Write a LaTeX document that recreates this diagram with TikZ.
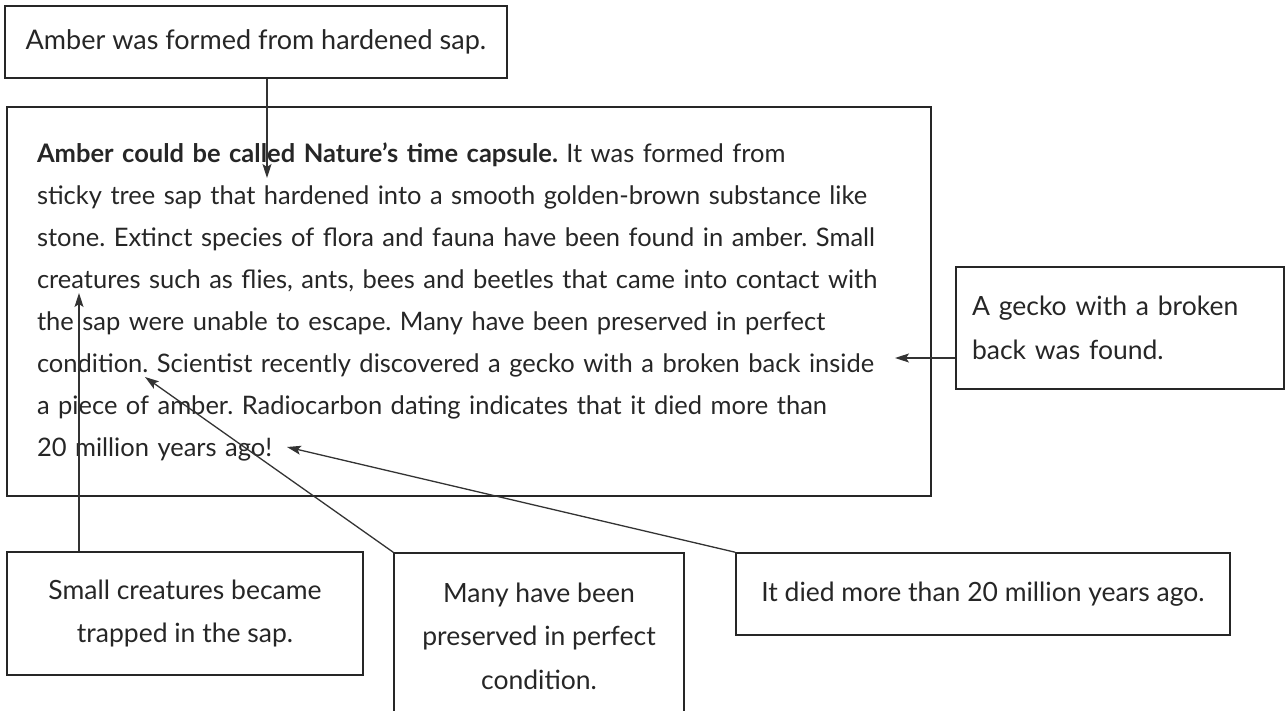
\documentclass[tikz,border=0pt]{standalone}
\usepackage{fontspec}
\setmainfont{Lato}
\usetikzlibrary{arrows.meta}
\frenchspacing
\begin{document}
\begin{tikzpicture}[x=1pt, y=-1pt,
  box/.style={rectangle, draw=black!85, line width=1.5pt, inner sep=0pt, align=center, text=black!85, font=\fontsize{26.5}{43.5}\selectfont},
  arrow/.style={-{Stealth[length=14pt, width=9pt, inset=3pt]}, line width=1.3pt, draw=black!80}
]
\useasboundingbox (0,0) rectangle (1288,711);
\node[box, minimum width=502pt, minimum height=72pt, font=\fontsize{27}{43}\selectfont] (sap) at (256,42) {Amber was formed from hardened sap.};
\node[box, align=left, text width=864pt, inner xsep=30pt, minimum height=389pt, font=\fontsize{25.5}{42}\selectfont] (story) at (469,301.5) {%
  \textbf{Amber could be called Nature’s time capsule.} It was formed from\\
  sticky tree sap that hardened into a smooth golden-brown substance like\\
  stone. Extinct species of flora and fauna have been found in amber. Small\\
  creatures such as flies, ants, bees and beetles that came into contact with\\
  the sap were unable to escape. Many have been preserved in perfect\\
  condition. Scientist recently discovered a gecko with a broken back inside\\
  a piece of amber. Radiocarbon dating indicates that it died more than\\
  20 million years ago!};
\node[box, align=left, text width=296pt, inner xsep=16pt, minimum height=122pt] (gecko) at (1120,328) {A gecko with a broken\\back was found.};
\node[box, minimum width=356pt, minimum height=123pt] (trapped) at (185,613.5) {Small creatures became\\trapped in the sap.};
\node[box, minimum width=290pt, minimum height=166pt] (kept) at (539,636) {Many have been\\preserved in perfect\\condition.};
\node[box, minimum width=494pt, minimum height=82pt] (died) at (983,594) {It died more than 20 million years ago.};
% arrow tips inside the story text
\coordinate (hardTip) at (267,178);
\coordinate (sapTip) at (79,293);
\coordinate (condTip) at (145,377);
\coordinate (agoTip) at (287,447);
\coordinate (insideTip) at (895,358);
\draw[arrow] (sap.south -| hardTip) -- (hardTip);
\draw[arrow] (trapped.north -| sapTip) -- (sapTip);
\draw[arrow] (kept.north west) -- (condTip);
\draw[arrow] (died.north west) -- (agoTip);
\draw[arrow] (gecko.west |- insideTip) -- (insideTip);
\end{tikzpicture}
\end{document}
